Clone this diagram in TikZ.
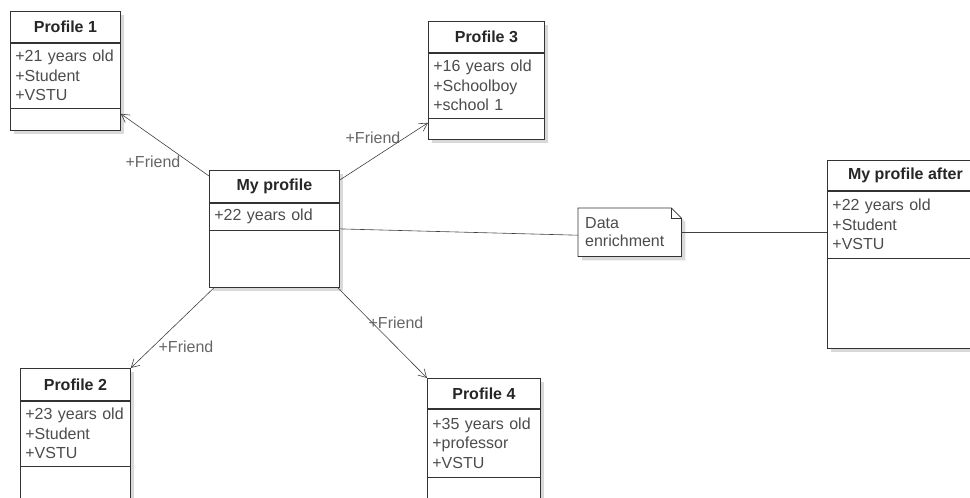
\documentclass[tikz,border=0pt]{standalone}
\usepackage{fontspec}
\setmainfont{Liberation Sans}
\usepackage{tikz}
\usetikzlibrary{arrows.meta,shadows}
\newcommand\umlfont{\fontsize{16pt}{19.5pt}\selectfont}
\tikzstyle{cls_box} = [rectangle, draw=black!80, fill=white, line width=0.8pt, anchor=north west, inner sep=0pt, drop shadow={shadow xshift=4pt, shadow yshift=-4pt, fill=black!15, opacity=1}]
\tikzstyle{cls_hd} = [rectangle, draw=black!80, line width=0.8pt, anchor=north, inner sep=0pt, font=\umlfont\bfseries, text=black!85]
\tikzstyle{cls_at} = [rectangle, draw=black!80, line width=0.8pt, anchor=north, inner xsep=5pt, inner ysep=0pt, align=left, font=\umlfont, text=black!70]
\tikzstyle{note_n} = [rectangle, anchor=north west, inner sep=0pt]
\tikzstyle{note_l} = [draw=black!80, line width=0.8pt]
\tikzstyle{note_t} = [rectangle, inner xsep=0pt, inner ysep=0pt, align=left, font=\fontsize{16pt}{18pt}\selectfont, text=black!70]
\tikzstyle{assoc} = [-{Straight Barb[length=8pt,width=9pt]}, draw=black!75, line width=0.6pt]
\tikzstyle{link} = [draw=black!75, line width=0.6pt]
\tikzstyle{role} = [inner sep=0pt, font=\umlfont, text=black!60]

\begin{document}
\begin{tikzpicture}[x=1pt, y=-1pt]
\useasboundingbox (0,0) rectangle (970,498);
% class boxes
\node[cls_box, minimum width=110pt, minimum height=119pt] (p1) at (10,11) {};
\node[cls_hd, minimum width=110pt, minimum height=31pt] (p1h) at (p1.north) {Profile 1};
\node[cls_at, text width=100pt, minimum height=65pt] (p1a) at (p1h.south) {+21 years old\\+Student\\+VSTU};

\node[cls_box, minimum width=130pt, minimum height=117pt] (me) at (209,170) {};
\node[cls_hd, minimum width=130pt, minimum height=32pt] (meh) at (me.north) {My profile};
\node[cls_at, text width=120pt, minimum height=27pt] (mea) at (meh.south) {+22 years old};

\node[cls_box, minimum width=116pt, minimum height=118pt] (p3) at (428,21) {};
\node[cls_hd, minimum width=116pt, minimum height=31pt] (p3h) at (p3.north) {Profile 3};
\node[cls_at, text width=106pt, minimum height=65pt] (p3a) at (p3h.south) {+16 years old\\+Schoolboy\\+school 1};

\node[cls_box, minimum width=110pt, minimum height=132pt] (p2) at (20,368) {};
\node[cls_hd, minimum width=110pt, minimum height=32pt] (p2h) at (p2.north) {Profile 2};
\node[cls_at, text width=100pt, minimum height=65pt] (p2a) at (p2h.south) {+23 years old\\+Student\\+VSTU};

\node[cls_box, minimum width=113pt, minimum height=123pt] (p4) at (427,378) {};
\node[cls_hd, minimum width=113pt, minimum height=30pt] (p4h) at (p4.north) {Profile 4};
\node[cls_at, text width=103pt, minimum height=68pt] (p4a) at (p4h.south) {+35 years old\\+professor\\+VSTU};

\node[cls_box, minimum width=156pt, minimum height=188pt] (af) at (827,160) {};
\node[cls_hd, minimum width=156pt, minimum height=30pt] (afh) at (af.north) {My profile after};
\node[cls_at, text width=146pt, minimum height=67pt] (afa) at (afh.south) {+22 years old\\+Student\\+VSTU};

% note
\node[note_n, minimum width=103pt, minimum height=48pt] (en) at (578,208) {};
\draw[note_l, fill=white, drop shadow={shadow xshift=4pt, shadow yshift=-4pt, fill=black!15, opacity=1}] (en.north west) -- ([xshift=-10pt]en.north east) -- ([yshift=-10pt]en.north east) -- (en.south east) -- (en.south west) -- cycle;
\draw[note_l] ([xshift=-10pt]en.north east) |- ([yshift=-10pt]en.north east);
\node[note_t, text width=89pt] (ent) at (en.center) {Data\\enrichment};

% associations
\draw[assoc] ([yshift=-6pt]me.north west) -- ([yshift=17pt]p1.south east);
\draw[assoc] ([yshift=-10pt]me.north east) -- ([yshift=17pt]p3.south west);
\draw[assoc] ([xshift=5pt]me.south west) -- (p2.north east);
\draw[assoc] ([xshift=-2pt]me.south east) -- (p4.north west);
\draw[link] (me.east) -- ([yshift=-3pt]en.west);
\draw[link] (en.east) -- (en.east -| af.west);

\node[role] (r1) at (153,162) {+Friend};
\node[role] (r3) at (373,138) {+Friend};
\node[role] (r2) at (186,347) {+Friend};
\node[role] (r4) at (396,323) {+Friend};
\end{tikzpicture}
\end{document}
